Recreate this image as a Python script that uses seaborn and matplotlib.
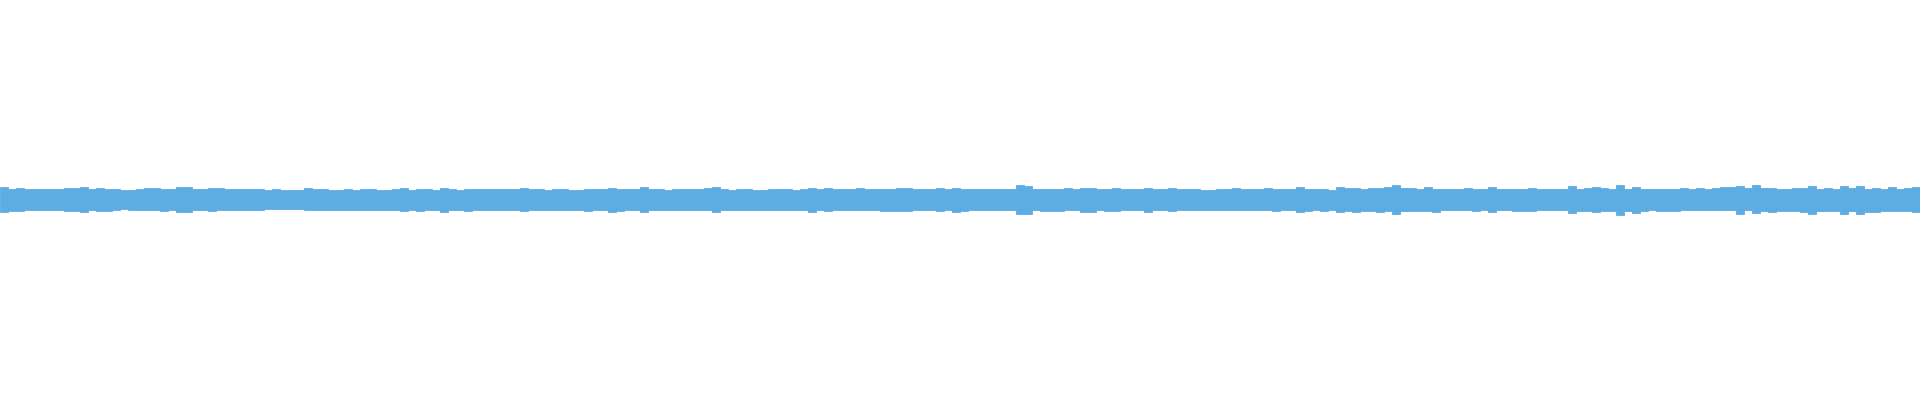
import numpy as np
import pandas as pd
import matplotlib
matplotlib.use("Agg")
import matplotlib.pyplot as plt
import seaborn as sns

# Waveform envelope, 240 segments across the width (amplitude units, full scale +/-600)
peak_top = [
    40, 33, 35, 34, 32, 33, 33, 32, 35, 36, 40, 34, 37, 34, 32, 31, 31, 32, 35, 37,
    34, 33, 39, 40, 33, 34, 35, 35, 32, 32, 34, 33, 32, 31, 32, 29, 31, 31, 35, 33,
    33, 30, 31, 33, 30, 32, 32, 30, 30, 33, 35, 30, 33, 32, 31, 36, 32, 31, 33, 32,
    32, 33, 32, 32, 32, 35, 33, 32, 31, 34, 33, 31, 31, 33, 33, 32, 37, 33, 34, 32,
    38, 32, 32, 31, 33, 34, 32, 32, 35, 38, 32, 31, 32, 33, 31, 31, 33, 32, 32, 31,
    34, 37, 32, 37, 32, 32, 34, 36, 33, 32, 34, 34, 37, 36, 33, 34, 32, 36, 32, 37,
    34, 32, 33, 34, 32, 33, 33, 46, 43, 32, 33, 32, 33, 37, 32, 36, 37, 33, 32, 37,
    33, 33, 33, 35, 32, 33, 37, 33, 33, 32, 31, 31, 32, 32, 36, 32, 33, 33, 37, 34,
    33, 33, 38, 34, 34, 33, 31, 40, 35, 35, 34, 37, 37, 39, 44, 35, 35, 34, 39, 34,
    32, 34, 32, 37, 33, 33, 38, 34, 33, 33, 34, 37, 33, 32, 32, 34, 41, 34, 35, 40,
    35, 34, 46, 33, 40, 34, 34, 33, 34, 33, 36, 34, 35, 32, 35, 38, 40, 43, 35, 44,
    35, 37, 33, 34, 37, 37, 43, 32, 37, 33, 43, 36, 42, 34, 37, 33, 38, 34, 36, 40,
]
peak_bottom = [
    -36, -32, -33, -31, -30, -31, -30, -31, -32, -32, -37, -31, -33, -32, -29, -28, -29, -29, -31, -31,
    -32, -31, -36, -35, -30, -31, -32, -31, -30, -30, -29, -29, -29, -28, -27, -27, -28, -28, -31, -29,
    -31, -29, -29, -31, -30, -29, -30, -29, -30, -31, -34, -30, -32, -31, -30, -35, -30, -31, -32, -30,
    -31, -31, -30, -31, -31, -32, -31, -30, -30, -31, -30, -30, -31, -32, -31, -31, -37, -32, -31, -30,
    -35, -30, -30, -31, -31, -31, -30, -30, -31, -36, -31, -30, -30, -30, -31, -31, -30, -30, -31, -30,
    -31, -36, -31, -32, -31, -31, -31, -31, -31, -31, -33, -33, -34, -32, -31, -31, -31, -34, -30, -36,
    -32, -31, -31, -31, -31, -30, -31, -42, -42, -31, -32, -32, -32, -31, -31, -36, -35, -31, -32, -34,
    -31, -31, -31, -35, -31, -31, -34, -31, -31, -31, -30, -30, -30, -30, -31, -31, -31, -31, -31, -32,
    -31, -31, -37, -32, -31, -32, -31, -37, -32, -37, -32, -33, -37, -34, -42, -33, -32, -32, -34, -37,
    -30, -31, -30, -31, -32, -31, -36, -31, -31, -32, -32, -32, -31, -31, -31, -31, -39, -32, -32, -35,
    -32, -32, -44, -32, -38, -32, -31, -32, -34, -32, -31, -31, -31, -29, -31, -31, -31, -41, -31, -38,
    -34, -37, -33, -32, -33, -36, -42, -32, -33, -33, -41, -34, -41, -37, -36, -33, -33, -33, -32, -36,
]
segment = list(range(len(peak_top)))

WAVE_COLOR = "#5DADE2"

df = pd.DataFrame({"segment": segment, "top": peak_top, "bottom": peak_bottom})

sns.set_theme(style="white")
fig = plt.figure(figsize=(19.2, 4.0), dpi=100)
fig.patch.set_facecolor("white")
ax = fig.add_axes([0, 0, 1, 1])

for col in ["top", "bottom"]:
    sns.barplot(data=df, x="segment", y=col, color=WAVE_COLOR, saturation=1,
                width=1.0, errorbar=None, linewidth=0.6, edgecolor=WAVE_COLOR,
                ax=ax)

ax.set_xlim(-0.5, len(segment) - 0.5)
ax.set_ylim(-600, 600)
ax.axis("off")

fig.savefig("out.png", dpi=100, facecolor="white")
